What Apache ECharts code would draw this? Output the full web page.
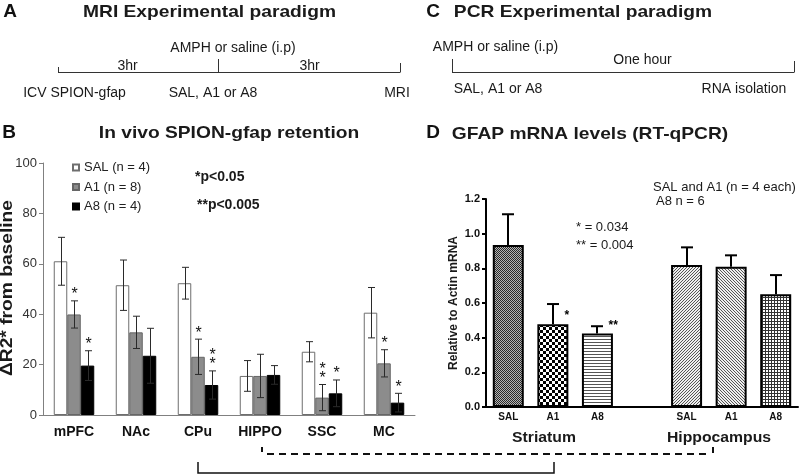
<!DOCTYPE html>
<html><head><meta charset="utf-8">
<script src="https://cdn.jsdelivr.net/npm/echarts@6/dist/echarts.min.js"></script>
<style>html,body{margin:0;padding:0;background:#fff}#c{width:800px;height:474px}</style>
</head><body><div id="c"></div>
<script>
// ---------- Panel B data ----------
const regions = ['mPFC', 'NAc', 'CPu', 'HIPPO', 'SSC', 'MC'];
const groupNames = ['SAL (n = 4)', 'A1 (n = 8)', 'A8 (n = 4)'];
const salMean = [61, 51.5, 52.3, 15.5, 25.1, 40.6];
const salErr  = [9.5, 10, 6.3, 6.1, 4, 10];
const a1Mean  = [39.9, 32.8, 23.1, 15.5, 6.9, 20.5];
const a1Err   = [5.4, 6.4, 7, 8.6, 5.2, 5.4];
const a8Mean  = [19.6, 23.5, 11.9, 15.9, 8.6, 4.9];
const a8Err   = [5.9, 10.9, 5.6, 3.7, 5.3, 3.7];
const salSig  = ['', '', '', '', '', ''];
const a1Sig   = ['*', '', '*', '', '**', '*'];
const a8Sig   = ['*', '', '**', '', '*', '*'];
const bYMin = 0, bYMax = 100, bYStep = 20;

// ---------- Panel D data ----------
const dTreatments = ['SAL', 'A1', 'A8'];
const dRegions = ['Striatum', 'Hippocampus'];
const striatumMean = [0.935, 0.478, 0.424];
const striatumErr  = [0.177, 0.116, 0.042];
const hippoMean    = [0.819, 0.809, 0.651];
const hippoErr     = [0.102, 0.066, 0.110];
const striatumSig  = ['', '*', '**'];
const hippoSig     = ['', '', ''];
const dYMin = 0, dYMax = 1.2, dYStep = 0.2;

// ---------- styles ----------
const FONT = "'Liberation Sans', Arial, Helvetica, sans-serif";
const BW = 13.5;   // panel B bar width
const DW = 31;     // panel D bar width

function makePattern(w, h, draw) {
  const c = document.createElement('canvas');
  c.width = w; c.height = h;
  const g = c.getContext('2d');
  draw(g, w, h);
  return { image: c, repeat: 'repeat' };
}
const patterns = [
  makePattern(2, 2, g => { g.fillStyle = '#b5b5b5'; g.fillRect(0,0,2,2); g.fillStyle = '#2a2a2a'; g.fillRect(0,0,1,1); g.fillRect(1,1,1,1); }),
  makePattern(6, 6, g => { g.fillStyle = '#fff'; g.fillRect(0,0,6,6); g.fillStyle = '#000'; g.fillRect(0,0,3,3); g.fillRect(3,3,3,3); }),
  makePattern(1, 3, g => { g.fillStyle = '#fff'; g.fillRect(0,0,1,3); g.fillStyle = '#555'; g.fillRect(0,0,1,1); }),
  makePattern(3, 3, g => { g.fillStyle = '#eeeeee'; g.fillRect(0,0,3,3); g.fillStyle = '#555'; for (let i=0;i<3;i++) g.fillRect(i,2-i,1,1); }),
  makePattern(3, 3, g => { g.fillStyle = '#eeeeee'; g.fillRect(0,0,3,3); g.fillStyle = '#555'; for (let i=0;i<3;i++) g.fillRect(i,i,1,1); }),
  makePattern(3, 3, g => { g.fillStyle = '#fff'; g.fillRect(0,0,3,3); g.fillStyle = '#333'; g.fillRect(0,0,3,1); g.fillRect(0,0,1,3); })
];

// ---------- build panel D slots ----------
const dSlots = [...dTreatments, '', ...dTreatments];
const dMeans = [...striatumMean, null, ...hippoMean];
const dErrs  = [...striatumErr, null, ...hippoErr];
const dSigs  = [...striatumSig, '', ...hippoSig];
const dBarData = dMeans.map((v, i) => {
  if (v === null) return null;
  const pi = i < 3 ? i : i - 1;
  return { value: v, itemStyle: { color: patterns[pi] } };
});

function txt(text, x, y, o) {
  o = o || {};
  const al = o.align || 'center';
  return {
    type: 'text', x: x, y: y, rotation: o.rot || 0, scaleX: o.sx || 1, scaleY: 1, silent: true,
    style: { text: text, x: 0, y: 0, fill: o.color || '#1a1a1a',
      font: (o.weight || 'normal') + ' ' + (o.size || 14) + 'px ' + FONT,
      textAlign: al, align: al, textVerticalAlign: 'middle', verticalAlign: 'middle' }
  };
}
function ln(x1, y1, x2, y2, o) {
  o = o || {};
  return { type: 'line', silent: true, shape: { x1, y1, x2, y2 },
    style: { stroke: o.color || '#333', lineWidth: o.w || 1, lineDash: o.dash || null } };
}

const bGroups = [
  { name: groupNames[0], mean: salMean, err: salErr, sig: salSig, fill: '#ffffff', border: '#6e6e6e' },
  { name: groupNames[1], mean: a1Mean, err: a1Err, sig: a1Sig, fill: '#8c8c8c', border: '#666' },
  { name: groupNames[2], mean: a8Mean, err: a8Err, sig: a8Sig, fill: '#000000', border: '#000' }
];

const series = [];
bGroups.forEach((g, k) => {
  series.push({
    type: 'bar', name: g.name, xAxisIndex: 0, yAxisIndex: 0,
    data: g.mean, barWidth: BW, barGap: '0%',
    itemStyle: { color: g.fill, borderColor: g.border, borderWidth: 1 },
    silent: true
  });
});
bGroups.forEach((g, k) => {
  series.push({
    type: 'custom', xAxisIndex: 0, yAxisIndex: 0, z: 5, silent: true,
    data: g.mean.map((m, i) => [i, m, g.err[i]]),
    renderItem: function (params, api) {
      const i = api.value(0), m = api.value(1), e = api.value(2);
      const dx = (k - 1) * BW;
      const hi = api.coord([i, m + e]);
      const lo = api.coord([i, Math.max(0, m - e)]);
      const x = Math.round(hi[0] + dx) + 0.5;
      const cap = 3.5;
      const st = { stroke: '#2a2a2a', lineWidth: 1 };
      const ch = [
        { type: 'line', shape: { x1: x, y1: hi[1], x2: x, y2: lo[1] }, style: st },
        { type: 'line', shape: { x1: x - cap, y1: hi[1], x2: x + cap, y2: hi[1] }, style: st },
        { type: 'line', shape: { x1: x - cap, y1: lo[1], x2: x + cap, y2: lo[1] }, style: st }
      ];
      const s = g.sig[params.dataIndex];
      for (let j = 0; j < s.length; j++) {
        ch.push({ type: 'text', x: x, y: hi[1] - 6 - j * 9,
          style: { text: '*', fill: '#111', font: 'normal 16px ' + FONT, align: 'center', verticalAlign: 'middle' } });
      }
      return { type: 'group', children: ch };
    }
  });
});

series.push({
  type: 'bar', xAxisIndex: 1, yAxisIndex: 1, data: dBarData, barWidth: DW, silent: true,
  itemStyle: { borderColor: '#000', borderWidth: 2 }
});
series.push({
  type: 'custom', xAxisIndex: 1, yAxisIndex: 1, z: 5, silent: true,
  data: dMeans.map((m, i) => m === null ? [i, NaN, NaN] : [i, m, dErrs[i]]),
  renderItem: function (params, api) {
    const i = api.value(0), m = api.value(1), e = api.value(2);
    if (isNaN(m)) return null;
    const top = api.coord([i, m]);
    const hi = api.coord([i, m + e]);
    const x = Math.round(top[0]);
    const st = { stroke: '#000', lineWidth: 2 };
    const ch = [
      { type: 'line', shape: { x1: x, y1: top[1], x2: x, y2: hi[1] }, style: st },
      { type: 'line', shape: { x1: x - 6, y1: hi[1], x2: x + 6, y2: hi[1] }, style: st }
    ];
    const s = dSigs[params.dataIndex];
    if (s) {
      ch.push({ type: 'text', x: x + DW / 2 - 4, y: top[1] - 8,
        style: { text: s, fill: '#000', font: 'bold 12px ' + FONT, align: 'left', verticalAlign: 'middle' } });
    }
    return { type: 'group', children: ch };
  }
});

const graphics = [
  // Panel A
  txt('A', 10, 12, { weight: 'bold', size: 19, color: '#111' }),
  txt('MRI Experimental paradigm', 209.5, 12, { weight: 'bold', size: 17, sx: 1.13 }),
  txt('3hr', 127.5, 66), txt('AMPH or saline (i.p)', 233, 48), txt('3hr', 309.5, 66),
  txt('ICV SPION-gfap', 74.5, 93), txt('SAL, A1 or A8', 213, 93), txt('MRI', 397, 93),
  ln(58, 72.5, 400, 72.5), ln(58.5, 67, 58.5, 72.5), ln(218.5, 59, 218.5, 72.5), ln(400.5, 63, 400.5, 72.5),
  // Panel C
  txt('C', 433, 12, { weight: 'bold', size: 19, color: '#111' }),
  txt('PCR Experimental paradigm', 583, 12, { weight: 'bold', size: 17, sx: 1.13 }),
  txt('AMPH or saline (i.p)', 495.5, 47), txt('One hour', 642.5, 60),
  txt('SAL, A1 or A8', 498, 89), txt('RNA isolation', 744, 89),
  ln(452, 72.5, 794, 72.5), ln(452.5, 59, 452.5, 72.5), ln(794.5, 61, 794.5, 72.5),
  // Panel B
  txt('B', 9, 133, { weight: 'bold', size: 19, color: '#111' }),
  txt('In vivo SPION-gfap retention', 229, 133, { weight: 'bold', size: 17, sx: 1.13 }),
  txt('*p<0.05', 195, 177, { weight: 'bold', size: 14, align: 'left' }),
  txt('**p<0.005', 197, 205, { weight: 'bold', size: 14, align: 'left' }),
  txt('\u0394R2* from baseline', 8, 288, { weight: 'bold', size: 16, sx: 1.2, rot: Math.PI / 2 }),
  // Panel D
  txt('D', 433, 133, { weight: 'bold', size: 19, color: '#111' }),
  txt('GFAP mRNA levels (RT-qPCR)', 590, 134, { weight: 'bold', size: 17, sx: 1.13 }),
  txt('SAL and A1 (n = 4 each)', 653, 187, { size: 13, align: 'left' }),
  txt('A8 n = 6', 656, 201, { size: 13, align: 'left' }),
  txt('* = 0.034', 576, 227, { size: 13, align: 'left' }),
  txt('** = 0.004', 576, 245, { size: 13, align: 'left' }),
  txt('Relative to Actin mRNA', 454, 303, { weight: 'bold', size: 12, rot: Math.PI / 2 }),
  txt(dRegions[0], 544, 438, { weight: 'bold', size: 15, sx: 1.05 }),
  txt(dRegions[1], 719, 438, { weight: 'bold', size: 15, sx: 1.05 }),
  // Brackets
  { type: 'polyline', silent: true, shape: { points: [[198, 462], [198, 473], [554, 473], [554, 462]] },
    style: { stroke: '#111', lineWidth: 1.5, fill: null } },
  ln(262, 447, 262, 452, { w: 2, color: '#111' }),
  ln(267, 454, 710, 454, { w: 2, color: '#111', dash: [7, 5] }),
  ln(713, 447, 713, 453, { w: 2, color: '#111' })
];

const chart = echarts.init(document.getElementById('c'), null, { renderer: 'canvas' });
chart.setOption({
  animation: false,
  backgroundColor: '#fff',
  textStyle: { fontFamily: FONT },
  legend: {
    data: groupNames, orient: 'vertical', left: 67, top: 156,
    itemWidth: 6, itemHeight: 6, itemGap: 6.5, icon: 'rect',
    textStyle: { fontSize: 13, color: '#222', fontFamily: FONT, lineHeight: 13 },
    selectedMode: false
  },
  grid: [
    { left: 43, right: 385, top: 163, bottom: 59 },
    { left: 486, right: 2, top: 199, bottom: 67 }
  ],
  xAxis: [
    { type: 'category', gridIndex: 0, data: regions,
      axisLine: { lineStyle: { color: '#808080', width: 1 } },
      axisTick: { length: 4, lineStyle: { color: '#808080' } },
      axisLabel: { fontSize: 14, fontWeight: 'bold', color: '#111', margin: 10, fontFamily: FONT } },
    { type: 'category', gridIndex: 1, data: dSlots,
      axisLine: { lineStyle: { color: '#000', width: 2 } },
      axisTick: { alignWithLabel: true, length: 4, lineStyle: { color: '#000', width: 2 } },
      axisLabel: { fontSize: 10, fontWeight: 'bold', color: '#111', margin: 5, interval: 0, fontFamily: FONT } }
  ],
  yAxis: [
    { type: 'value', gridIndex: 0, min: bYMin, max: bYMax, interval: bYStep,
      splitLine: { show: false },
      axisLine: { show: true, lineStyle: { color: '#808080' } },
      axisTick: { show: true, length: 4, lineStyle: { color: '#808080' } },
      axisLabel: { fontSize: 13, color: '#333', margin: 6, fontFamily: FONT } },
    { type: 'value', gridIndex: 1, min: dYMin, max: dYMax, interval: dYStep,
      splitLine: { show: false },
      axisLine: { show: true, lineStyle: { color: '#000', width: 2 } },
      axisTick: { show: true, length: 4, lineStyle: { color: '#000', width: 2 } },
      axisLabel: { fontSize: 11, fontWeight: 'bold', color: '#111', margin: 6, fontFamily: FONT,
        formatter: v => v.toFixed(1) } }
  ],
  series: series,
  graphic: { elements: graphics }
});
</script></body></html>
